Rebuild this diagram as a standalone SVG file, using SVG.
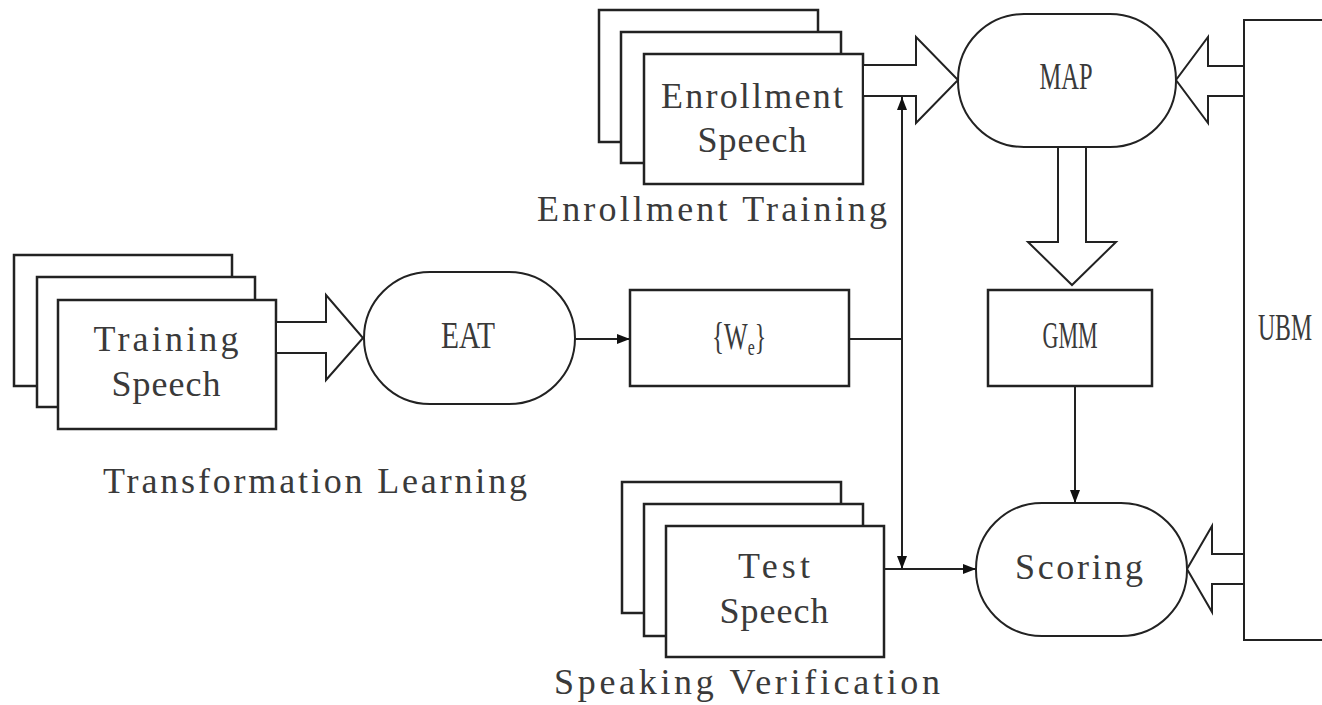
<svg xmlns="http://www.w3.org/2000/svg" width="1322" height="705" viewBox="0 0 1322 705">
<style>
.box{fill:#fff;stroke:#222;stroke-width:2.5}
.term{fill:#fff;stroke:#222;stroke-width:2}
.blk{fill:#fff;stroke:#222;stroke-width:2;stroke-linejoin:miter}
.ln{fill:none;stroke:#222;stroke-width:2}
.mono{font-family:"Liberation Serif","Times New Roman",serif;font-size:36px;fill:#3a3a3a}
.ser{font-family:"Liberation Serif","Times New Roman",serif;font-size:38px;fill:#3a3a3a}
</style>
<defs>
<marker id="ah" markerWidth="14" markerHeight="10" refX="13" refY="5" orient="auto" markerUnits="userSpaceOnUse">
<path d="M0,0 L13,5 L0,10 z" fill="#111"/>
</marker>
</defs>
<rect width="1322" height="705" fill="#fff"/>

<g id="training-speech">
<rect class="box" x="14" y="255" width="218" height="131"/>
<rect class="box" x="37" y="277" width="218" height="130"/>
<rect class="box" x="58" y="300" width="218" height="129"/>
<text class="mono" x="166" y="351" text-anchor="middle" textLength="145" lengthAdjust="spacing">Training</text>
<text class="mono" x="166" y="396" text-anchor="middle" textLength="109" lengthAdjust="spacing">Speech</text>
</g>
<text id="label-transformation" class="mono" x="103" y="493" textLength="424" lengthAdjust="spacing">Transformation Learning</text>

<g id="eat">
<rect class="term" x="364" y="272" width="211" height="132" rx="66" ry="66"/>
<text class="ser" x="468" y="348" text-anchor="middle" textLength="54" lengthAdjust="spacingAndGlyphs">EAT</text>
</g>

<g id="we">
<rect class="box" x="630" y="290" width="219" height="96"/>
<text class="ser" transform="translate(739,349) scale(0.66,1)" text-anchor="middle" font-size="36">{W<tspan font-size="24" dy="6">e</tspan><tspan font-size="36" dy="-6">}</tspan></text>
</g>

<g id="enrollment-speech">
<rect class="box" x="599" y="10" width="219" height="132"/>
<rect class="box" x="621" y="32" width="220" height="131"/>
<rect class="box" x="644" y="54" width="219" height="130"/>
<text class="mono" x="752" y="108" text-anchor="middle" textLength="182" lengthAdjust="spacing">Enrollment</text>
<text class="mono" x="752" y="152" text-anchor="middle" textLength="109" lengthAdjust="spacing">Speech</text>
</g>
<text id="label-enrollment" class="mono" x="537" y="221" textLength="350" lengthAdjust="spacing">Enrollment Training</text>

<g id="test-speech">
<rect class="box" x="622" y="482" width="219" height="131"/>
<rect class="box" x="644" y="504" width="219" height="132"/>
<rect class="box" x="666" y="526" width="218" height="131"/>
<text class="mono" x="774" y="578" text-anchor="middle" textLength="72" lengthAdjust="spacing">Test</text>
<text class="mono" x="774" y="623" text-anchor="middle" textLength="109" lengthAdjust="spacing">Speech</text>
</g>
<text id="label-verification" class="mono" x="554" y="694" textLength="386" lengthAdjust="spacing">Speaking Verification</text>

<g id="map">
<rect class="term" x="958" y="14" width="218" height="133" rx="66" ry="66"/>
<text class="ser" x="1066" y="89" text-anchor="middle" textLength="53" lengthAdjust="spacingAndGlyphs">MAP</text>
</g>

<g id="gmm">
<rect class="box" x="988" y="290" width="164" height="96"/>
<text class="ser" x="1070" y="348" text-anchor="middle" textLength="55" lengthAdjust="spacingAndGlyphs">GMM</text>
</g>

<g id="scoring">
<rect class="term" x="976" y="503" width="211" height="133" rx="66" ry="66"/>
<text class="mono" x="1079" y="579" text-anchor="middle" textLength="128" lengthAdjust="spacing">Scoring</text>
</g>

<g id="ubm">
<path class="term" d="M1323,20 H1244 V640 H1323"/>
<text class="ser" x="1285" y="340" text-anchor="middle" textLength="54" lengthAdjust="spacingAndGlyphs">UBM</text>
</g>

<g id="connectors">
<polygon class="blk" points="276,322 326,322 326,295 363,338 326,380 326,353 276,353"/>
<polygon class="blk" points="863,65 916,65 916,37 958,80 916,123 916,96 863,96"/>
<polygon class="blk" points="1244,66 1208,66 1208,37 1176,80 1208,123 1208,96 1244,96"/>
<polygon class="blk" points="1244,554 1212,554 1212,526 1187,569 1212,612 1212,584 1244,584"/>
<polygon class="blk" points="1058,147 1086,147 1086,242 1116,242 1072,285 1028,242 1058,242"/>
<line class="ln" x1="575" y1="339" x2="630" y2="339" marker-end="url(#ah)"/>
<line class="ln" x1="849" y1="339" x2="902" y2="339"/>
<line class="ln" x1="902" y1="339" x2="902" y2="97" marker-end="url(#ah)"/>
<line class="ln" x1="902" y1="339" x2="902" y2="569" marker-end="url(#ah)"/>
<line class="ln" x1="884" y1="569" x2="976" y2="569" marker-end="url(#ah)"/>
<line class="ln" x1="1075" y1="386" x2="1075" y2="503" marker-end="url(#ah)"/>
</g>
</svg>
